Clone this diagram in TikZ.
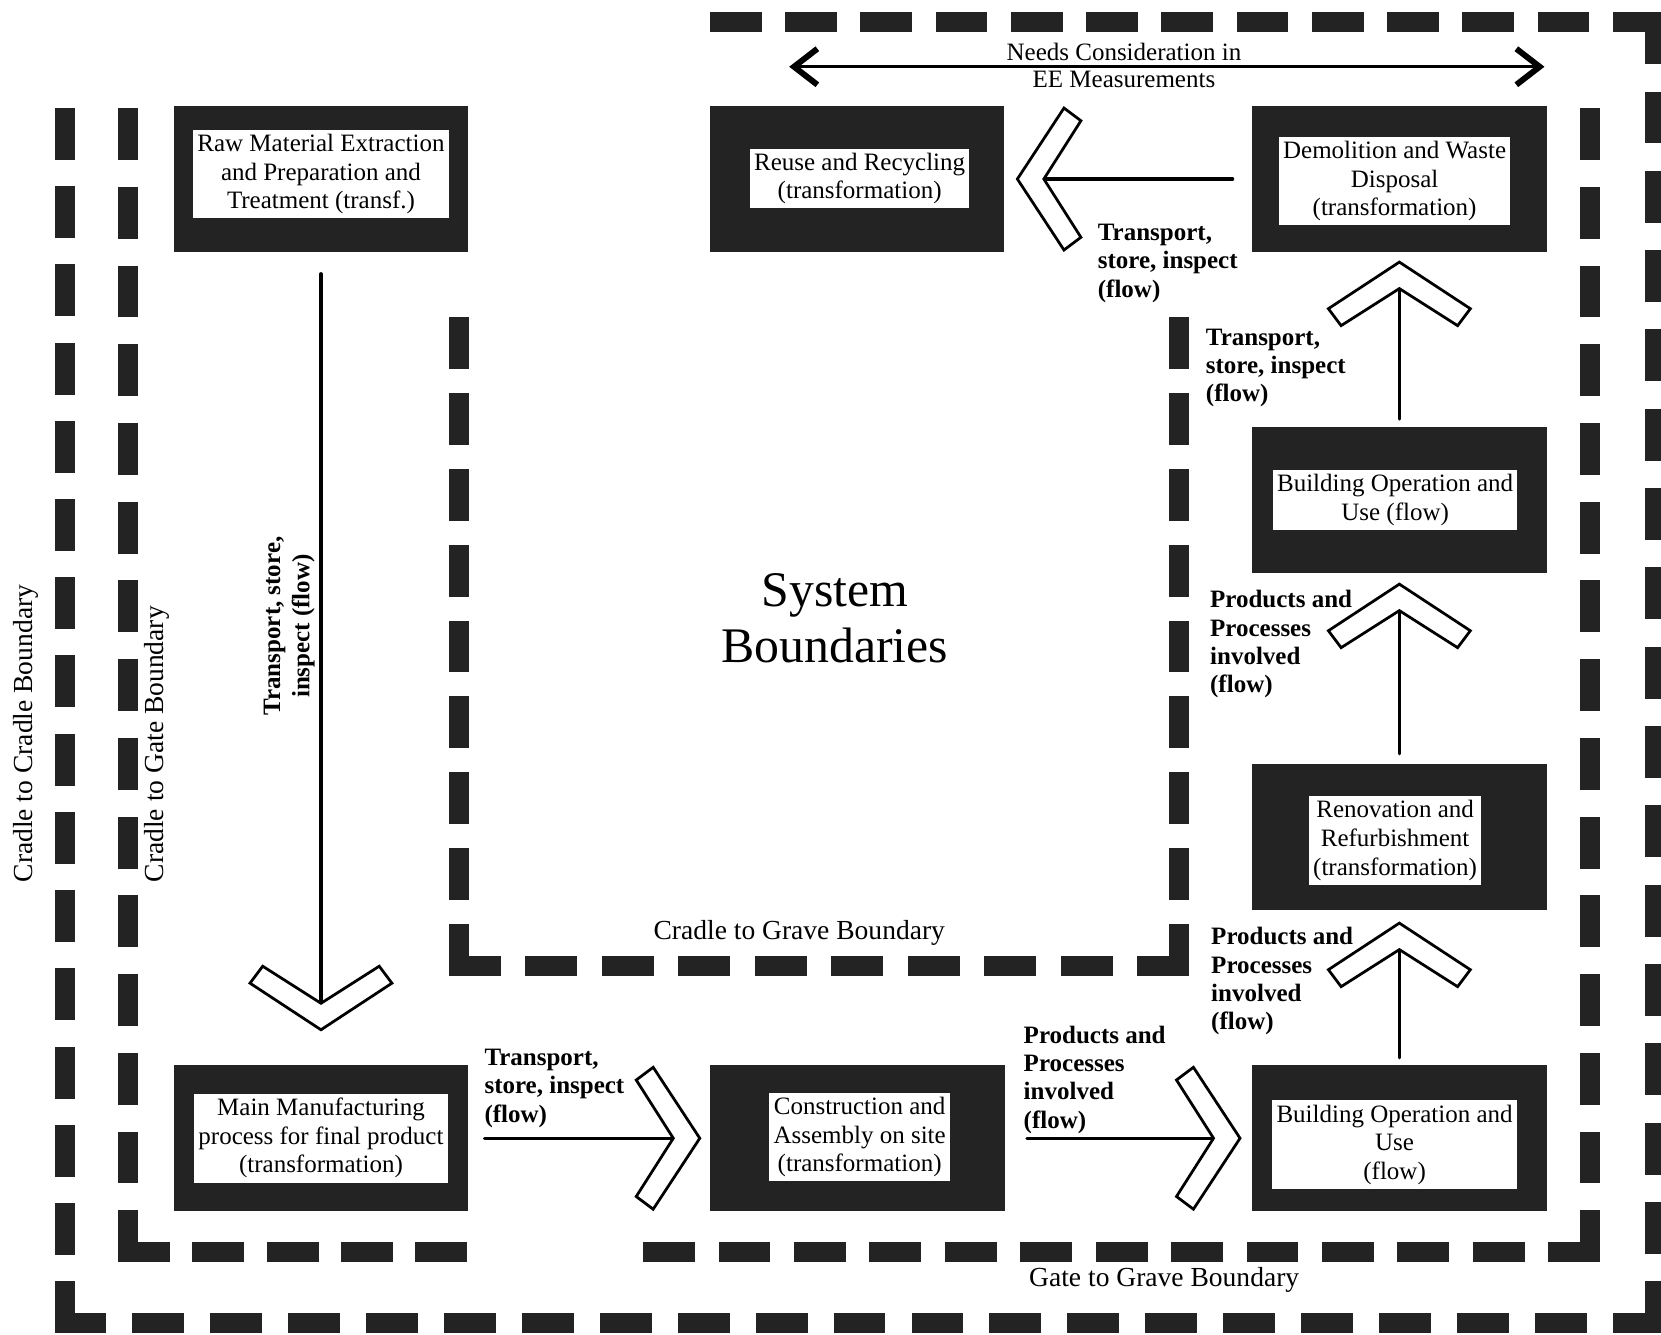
\documentclass[tikz,border=0pt]{standalone}
\usepackage{fontspec}
\setmainfont{Liberation Serif}
\usetikzlibrary{calc,arrows.meta}
\definecolor{ink}{RGB}{35,35,35}
\tikzset{
  chev/.pic={\draw[line width=1.3pt, fill=white, line join=miter, draw=black]
    (0,0) -- (-44,67) -- (-60,55) -- (-25,0) -- (-60,-55) -- (-44,-67) -- cycle;}
}
\begin{document}
\begin{tikzpicture}[x=0.5pt,y=-0.5pt,
  frame/.style={fill=ink, draw=none, minimum width=139pt, minimum height=69pt, inner sep=0pt},
  boxtext/.style={fill=white, inner sep=2pt, align=center, font=\fontsize{11.8}{13.5}\selectfont},
  lbl/.style={font=\bfseries\fontsize{11.8}{13.4}\selectfont, align=left, anchor=north west, inner sep=0pt},
  lblv/.style={font=\bfseries\fontsize{11.8}{13.8}\selectfont, align=center, inner sep=0pt, rotate=90},
  conn/.style={line width=1.5pt, draw=black, line cap=round},
  bnd/.style={line width=9.5pt, draw=ink, line cap=rect},
  blabel/.style={font=\fontsize{13}{15}\selectfont, inner sep=0pt},
  eearrow/.style={line width=1.5pt, {Straight Barb[length=11pt,width=17pt,line width=2.8pt]}-{Straight Barb[length=11pt,width=17pt,line width=2.8pt]}}
]
\useasboundingbox (0,0) rectangle (1568,1260);

% ---------- boundaries ----------
% outer: cradle to cradle
\coordinate (oTR) at (1562,21);
\coordinate (oBR) at (1562,1249);
\coordinate (oBL) at (61,1249);
\draw[bnd, dash pattern=on 15pt off 20.52pt] (oTR) -- (679.5,21);
\draw[bnd, dash pattern=on 15pt off 22.44pt] (oTR) -- (oBR);
\draw[bnd, dash pattern=on 15pt off 21.78pt] (oBR) -- (oBL);
\draw[bnd, dash pattern=on 15pt off 21.92pt] (oBL) -- (61,111.5);
% cradle to gate
\coordinate (gBL) at (121,1182);
\draw[bnd, dash pattern=on 15pt off 22.16pt] (gBL) -- (121,111.5);
\draw[bnd, dash pattern=on 15pt off 20.06pt] (gBL) -- (431.5,1182);
% gate to grave
\coordinate (gBR) at (1501,1182);
\draw[bnd, dash pattern=on 15pt off 20.6pt] (gBR) -- (616.5,1182);
\draw[bnd, dash pattern=on 15pt off 22.16pt] (gBR) -- (1501,111.5);
% cradle to grave
\coordinate (iBL) at (433,912);
\coordinate (iBR) at (1113,912);
\draw[bnd, dash pattern=on 15pt off 20.84pt] (iBL) -- (433,308.5);
\draw[bnd, dash pattern=on 15pt off 21.11pt] (iBL) -- (iBR);
\draw[bnd, dash pattern=on 15pt off 20.84pt] (iBR) -- (1113,308.5);

% ---------- boundary labels ----------
\node[blabel, rotate=90] (lc2c) at (24,692.5) {Cradle to Cradle Boundary};
\node[blabel, rotate=90] (lc2g) at (148.5,702.5) {Cradle to Gate Boundary};
\node[blabel, anchor=base] (lc2gr) at (754.5,886.5) {Cradle to Grave Boundary};
\node[blabel, anchor=base] (lg2g) at (1099,1214) {Gate to Grave Boundary};
\node[font=\fontsize{23.5}{26.5}\selectfont, align=center, inner sep=0pt] (sysb) at (788,583.5) {System\\Boundaries};

% ---------- boxes ----------
\node[frame] (raw) at (303,169) {};
\node[boxtext] (rawt) at ($(raw)+(0,-4.5)$) {Raw Material Extraction\\and Preparation and\\Treatment (transf.)};
\node[frame] (reuse) at (809,169) {};
\node[boxtext] (reuset) at ($(reuse)+(2.5,-0.5)$) {Reuse and Recycling\\(transformation)};
\node[frame] (demo) at (1321,169) {};
\node[boxtext] (demot) at ($(demo)+(-4.5,2)$) {Demolition and Waste\\Disposal\\(transformation)};
\node[frame] (bldgU) at (1321,472) {};
\node[boxtext] (bldgUt) at ($(bldgU)+(-4,0)$) {Building Operation and\\Use (flow)};
\node[frame] (renov) at (1321,790) {};
\node[boxtext] (renovt) at ($(renov)+(-4,3.5)$) {Renovation and\\Refurbishment\\(transformation)};
\node[frame] (bldgL) at (1321,1074.5) {};
\node[boxtext] (bldgLt) at ($(bldgL)+(-4.5,6)$) {Building Operation and\\Use\\(flow)};
\node[frame] (cons) at (809.5,1074.5) {};
\node[boxtext] (const) at ($(cons)+(2,-1)$) {Construction and\\Assembly on site\\(transformation)};
\node[frame] (main) at (303,1074.5) {};
\node[boxtext] (maint) at ($(main)+(0,0)$) {Main Manufacturing\\process for final product\\(transformation)};

% ---------- connectors ----------
\draw[conn, shorten <=10pt, shorten >=29.5pt] (raw.south) -- (main.north);
\pic[rotate=-90] at ($(main.north)+(0,-33)$) {chev};

\draw[conn, shorten <=7.5pt, shorten >=17.25pt] (main.east) -- (cons.west);
\pic at ($(cons.west)+(-9.5,0)$) {chev};

\draw[conn, shorten <=10.25pt, shorten >=18pt] (cons.east) -- (bldgL.west);
\pic at ($(bldgL.west)+(-11,0)$) {chev};

\draw[conn, shorten <=3.25pt, shorten >=18.5pt] (bldgL.north) -- (renov.south);
\pic[rotate=90] at ($(renov.south)+(0,12)$) {chev};

\draw[conn, shorten <=4.5pt, shorten >=17.5pt] (renov.north) -- (bldgU.south);
\pic[rotate=90] at ($(bldgU.south)+(0,10)$) {chev};

\draw[conn, shorten <=3.5pt, shorten >=17pt] (bldgU.north) -- (demo.south);
\pic[rotate=90] at ($(demo.south)+(0,9)$) {chev};

\draw[conn, shorten <=9pt, shorten >=18.5pt] (demo.west) -- (reuse.east);
\pic[rotate=180] at ($(reuse.east)+(12,0)$) {chev};

% ---------- EE double arrow ----------
\coordinate (eeL) at (745,63);
\coordinate (eeR) at (1458,63);
\draw[eearrow] (eeL) -- (eeR);
\node[font=\fontsize{11.8}{12.7}\selectfont, align=center, inner sep=0pt] (ee) at (1061,61.5) {Needs Consideration in\\EE Measurements};

% ---------- flow labels ----------
\node[lblv] (l0) at (273,591) {Transport, store,\\inspect (flow)};
\node[lbl] (l1) at (457,990) {Transport,\\store, inspect\\(flow)};
\node[lbl] (l2) at (966,968) {Products and\\Processes\\involved\\(flow)};
\node[lbl] (l3) at (1143,875) {Products and\\Processes\\involved\\(flow)};
\node[lbl] (l4) at (1142,557) {Products and\\Processes\\involved\\(flow)};
\node[lbl] (l5) at (1138,310) {Transport,\\store, inspect\\(flow)};
\node[lbl] (l6) at (1036,211) {Transport,\\store, inspect\\(flow)};
\end{tikzpicture}
\end{document}
